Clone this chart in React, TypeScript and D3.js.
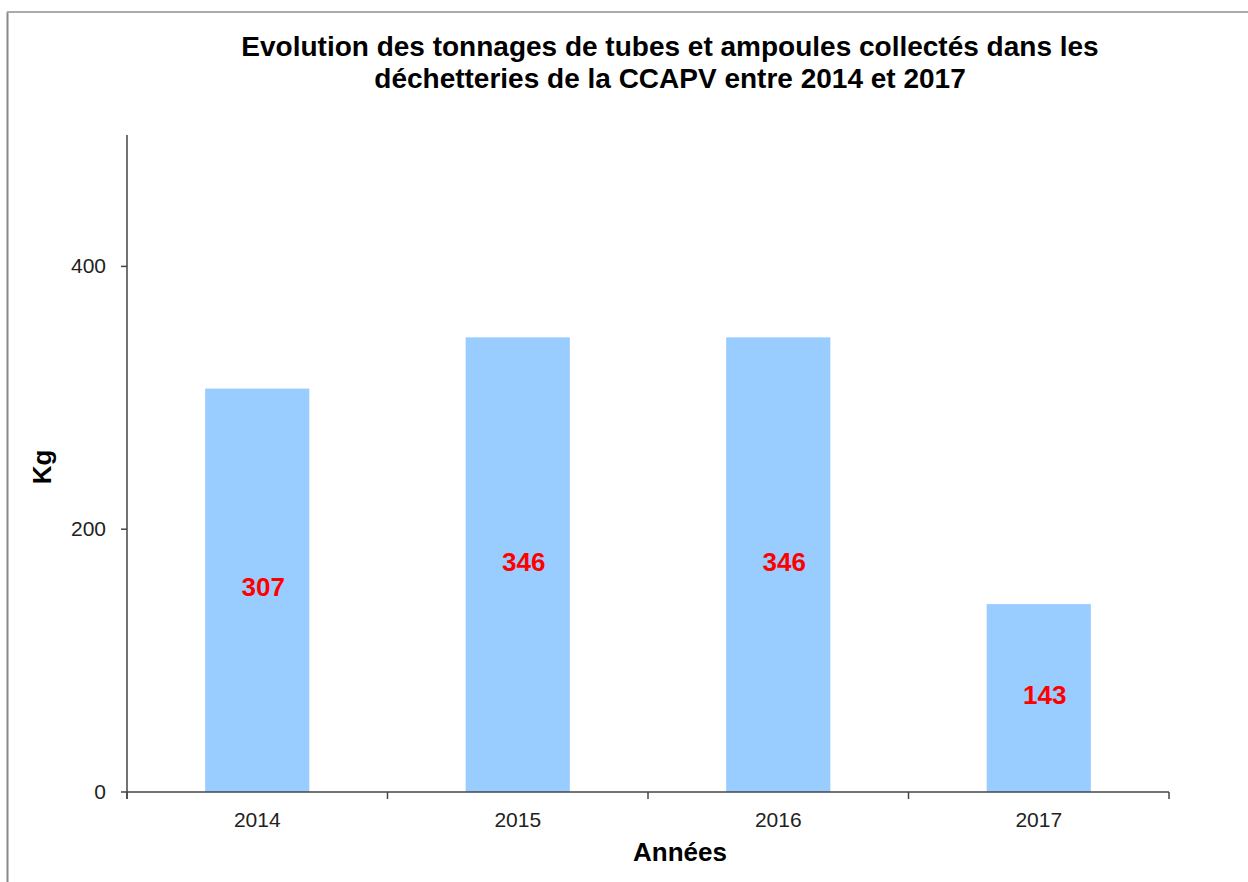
import React from "react";
import * as d3 from "d3";

const years = ["2014", "2015", "2016", "2017"];
const tonnages = [307, 346, 346, 143];
const yTicks = [0, 200, 400];
const titleLines = [
  "Evolution des tonnages de tubes et ampoules collectés dans les",
  "déchetteries de la CCAPV entre 2014 et 2017",
];

const W = 1248;
const H = 882;
const left = 127;
const right = 1169;
const top = 135;
const bottom = 792;

export default function App() {
  const x = d3.scaleBand<string>().domain(years).range([left, right]).paddingInner(0).paddingOuter(0);
  const y = d3.scaleLinear().domain([0, 500]).range([bottom, top]);
  const bw = x.bandwidth() * 0.4;
  const font = "Liberation Sans, Arial, sans-serif";
  const boundaries = [...years.map((yr) => x(yr) as number), right];

  return (
    <svg
      width={W}
      height={H}
      style={{ position: "absolute", left: 0, top: 0, background: "#fff" }}
      fontFamily={font}
    >
      <rect x={0} y={0} width={W} height={H} fill="#fff" />
      <line x1={7.5} y1={12} x2={7.5} y2={H} stroke="#888" strokeWidth={2} />
      <line x1={7} y1={12} x2={W} y2={12} stroke="#aaa" strokeWidth={2} />

      {titleLines.map((t, i) => (
        <text key={i} x={670} y={56 + i * 32} textAnchor="middle" fontSize={28} fontWeight="bold" fill="#000">
          {t}
        </text>
      ))}

      {years.map((yr, i) => {
        const cx = (x(yr) as number) + x.bandwidth() / 2;
        return (
          <g key={yr}>
            <rect x={cx - bw / 2} y={y(tonnages[i])} width={bw} height={bottom - y(tonnages[i])} fill="#99CCFF" />
            <text
              x={cx + 6}
              y={(y(tonnages[i]) + bottom) / 2 + 6}
              textAnchor="middle"
              fontSize={26}
              fontWeight="bold"
              fill="#FF0000"
            >
              {tonnages[i]}
            </text>
            <text x={cx} y={827} textAnchor="middle" fontSize={21} fill="#222">
              {yr}
            </text>
          </g>
        );
      })}

      {/* y axis */}
      <line x1={left} y1={top} x2={left} y2={bottom + 7} stroke="#444" strokeWidth={1.5} />
      {yTicks.map((t) => (
        <g key={t}>
          <line x1={left - 6} y1={y(t)} x2={left} y2={y(t)} stroke="#444" strokeWidth={1.5} />
          <text x={left - 21} y={y(t) + 7} textAnchor="end" fontSize={21} fill="#222">
            {t}
          </text>
        </g>
      ))}

      {/* x axis */}
      <line x1={left} y1={bottom} x2={right} y2={bottom} stroke="#444" strokeWidth={1.5} />
      {boundaries.map((bx, i) => (
        <line key={i} x1={bx} y1={bottom} x2={bx} y2={bottom + 7} stroke="#444" strokeWidth={1.5} />
      ))}

      <text x={680} y={861} textAnchor="middle" fontSize={26} fontWeight="bold" fill="#000">
        Années
      </text>
      <text
        transform={`translate(51, 467) rotate(-90)`}
        textAnchor="middle"
        fontSize={26}
        fontWeight="bold"
        fill="#000"
      >
        Kg
      </text>
    </svg>
  );
}
